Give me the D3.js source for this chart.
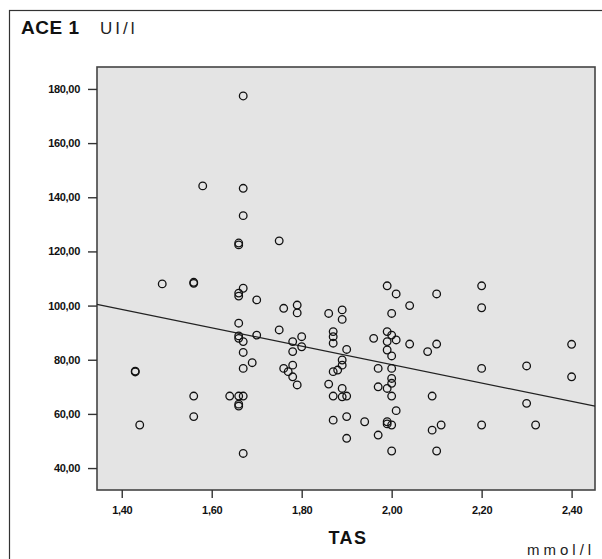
<!DOCTYPE html>
<html lang="en">
<head>
  <meta charset="UTF-8">
  <title>ACE 1 vs TAS</title>
  <script src="https://d3js.org/d3.v7.min.js"></script>
  <style>
    body { margin: 0; background: #fff; }
    svg { display: block; font-family: "Liberation Sans", Arial, sans-serif; }
  </style>
</head>
<body>
  <div id="chart"></div>
  <script>
    // TAS (mmol/l) and ACE 1 (UI/l)
    const tas = [
      1.67, 1.58, 1.67, 1.67, 1.66, 1.66, 1.75, 1.49, 1.56, 1.56,
      1.67, 1.66, 1.66, 1.70, 1.76, 1.79, 1.79, 1.66, 1.75, 1.66,
      1.66, 1.67, 1.70, 1.78, 1.80, 1.67, 1.78, 1.69, 1.67, 1.76,
      1.78, 1.77, 1.78, 1.79, 1.43, 1.43, 1.56, 1.64, 1.66, 1.67,
      1.66, 1.66, 1.56, 1.44, 1.67,
      1.99, 2.01, 2.10, 2.20, 2.04, 2.20, 1.86, 1.89, 1.89, 2.00,
      1.87, 1.87, 1.87, 1.96, 1.99, 2.00, 2.01, 1.99, 1.80, 2.04,
      2.10, 2.08, 1.90, 1.99, 2.00, 1.89, 1.89, 1.88, 1.87, 1.97,
      2.00, 1.86, 2.00, 2.00, 1.97, 1.99, 1.89, 1.87, 1.89, 1.90,
      2.00, 2.09, 2.20, 2.01, 1.87, 1.90, 1.94, 1.99, 1.99, 2.00,
      1.97, 1.90, 2.09, 2.11, 2.20, 2.00, 2.10,
      2.40, 2.30, 2.40, 2.30, 2.32
    ];
    const ace = [
      177.4, 144.2, 143.3, 133.2, 122.4, 123.1, 123.9, 108.0, 108.6, 108.2,
      106.4, 103.5, 104.6, 102.1, 99.0, 100.2, 97.3, 93.5, 91.0, 87.9,
      88.8, 86.7, 89.1, 86.7, 88.5, 82.7, 83.0, 78.9, 76.8, 76.8,
      78.0, 75.6, 73.7, 70.7, 75.8, 75.5, 66.6, 66.6, 66.6, 66.6,
      62.9, 63.6, 59.0, 55.9, 45.4,
      107.3, 104.3, 104.3, 107.3, 100.0, 99.2, 97.1, 98.4, 94.9, 97.1,
      90.4, 88.5, 86.1, 87.9, 90.4, 89.1, 87.3, 86.7, 84.8, 85.8,
      85.8, 83.0, 83.8, 83.6, 81.4, 79.9, 78.0, 76.2, 75.6, 76.8,
      76.8, 71.0, 73.1, 71.3, 70.0, 69.4, 69.4, 66.6, 66.3, 66.6,
      66.6, 66.6, 76.8, 61.2, 57.7, 59.0, 57.1, 57.1, 56.3, 55.9,
      52.2, 51.0, 54.0, 55.9, 55.9, 46.3, 46.3,
      85.7, 77.7, 73.7, 63.9, 55.9
    ];

    const xTicks = [1.4, 1.6, 1.8, 2.0, 2.2, 2.4];
    const xTickLabels = ['1,40', '1,60', '1,80', '2,00', '2,20', '2,40'];
    const yTicks = [40, 60, 80, 100, 120, 140, 160, 180];
    const yTickLabels = ['40,00', '60,00', '80,00', '100,00', '120,00', '140,00', '160,00', '180,00'];

    // linear fit drawn in the original
    const fitIntercept = 146.2;
    const fitSlope = -34.0;

    const width = 602, height = 559;
    const plot = { left: 97, right: 595, top: 67, bottom: 490 };

    const svg = d3.select('#chart').append('svg')
      .attr('width', width)
      .attr('height', height);

    // outer frame
    svg.append('rect')
      .attr('x', 9.5).attr('y', 10.5)
      .attr('width', 620).attr('height', 600)
      .attr('fill', 'none')
      .attr('stroke', '#333')
      .attr('stroke-width', 1.2);

    const x = d3.scaleLinear().domain([1.345, 2.452]).range([plot.left, plot.right]);
    const y = d3.scaleLinear().domain([31.9, 188.1]).range([plot.bottom, plot.top]);

    svg.append('rect')
      .attr('x', plot.left).attr('y', plot.top)
      .attr('width', plot.right - plot.left)
      .attr('height', plot.bottom - plot.top)
      .attr('fill', '#e4e4e4')
      .attr('stroke', '#444')
      .attr('stroke-width', 1.6);

    const xAxis = svg.append('g')
      .attr('transform', `translate(0,${plot.bottom})`)
      .call(d3.axisBottom(x).tickValues(xTicks)
        .tickFormat((d, i) => xTickLabels[i]).tickSize(8).tickPadding(8));
    const yAxis = svg.append('g')
      .attr('transform', `translate(${plot.left},0)`)
      .call(d3.axisLeft(y).tickValues(yTicks)
        .tickFormat((d, i) => yTickLabels[i]).tickSize(9).tickPadding(8));

    [xAxis, yAxis].forEach(g => {
      g.select('.domain').remove();
      g.selectAll('line').attr('stroke', '#333').attr('stroke-width', 1.4);
      g.selectAll('text')
        .attr('fill', '#111')
        .style('font-size', '11px')
        .style('font-weight', 'bold')
        .style('letter-spacing', '-0.3px');
    });

    // regression line
    svg.append('line')
      .attr('x1', x(1.345)).attr('y1', y(fitIntercept + fitSlope * 1.345))
      .attr('x2', x(2.452)).attr('y2', y(fitIntercept + fitSlope * 2.452))
      .attr('stroke', '#222')
      .attr('stroke-width', 1.3);

    svg.append('g')
      .selectAll('circle')
      .data(tas.map((t, i) => [t, ace[i]]))
      .enter().append('circle')
      .attr('cx', d => x(d[0]))
      .attr('cy', d => y(d[1]))
      .attr('r', 3.8)
      .attr('fill', 'none')
      .attr('stroke', '#111')
      .attr('stroke-width', 1.3);

    // titles
    svg.append('text')
      .attr('x', 21).attr('y', 34)
      .style('font-size', '19px').style('font-weight', 'bold')
      .style('letter-spacing', '0.5px')
      .attr('fill', '#111')
      .text('ACE 1');
    svg.append('text')
      .attr('x', 100).attr('y', 34)
      .style('font-size', '17px')
      .style('letter-spacing', '3px')
      .attr('fill', '#222')
      .text('UI/l');
    svg.append('text')
      .attr('x', 348).attr('y', 544)
      .attr('text-anchor', 'middle')
      .style('font-size', '18px').style('font-weight', 'bold')
      .style('letter-spacing', '1.5px')
      .attr('fill', '#111')
      .text('TAS');
    svg.append('text')
      .attr('x', 527).attr('y', 555)
      .style('font-size', '15px')
      .style('letter-spacing', '4px')
      .attr('fill', '#222')
      .text('mmol/l');
  </script>
</body>
</html>
